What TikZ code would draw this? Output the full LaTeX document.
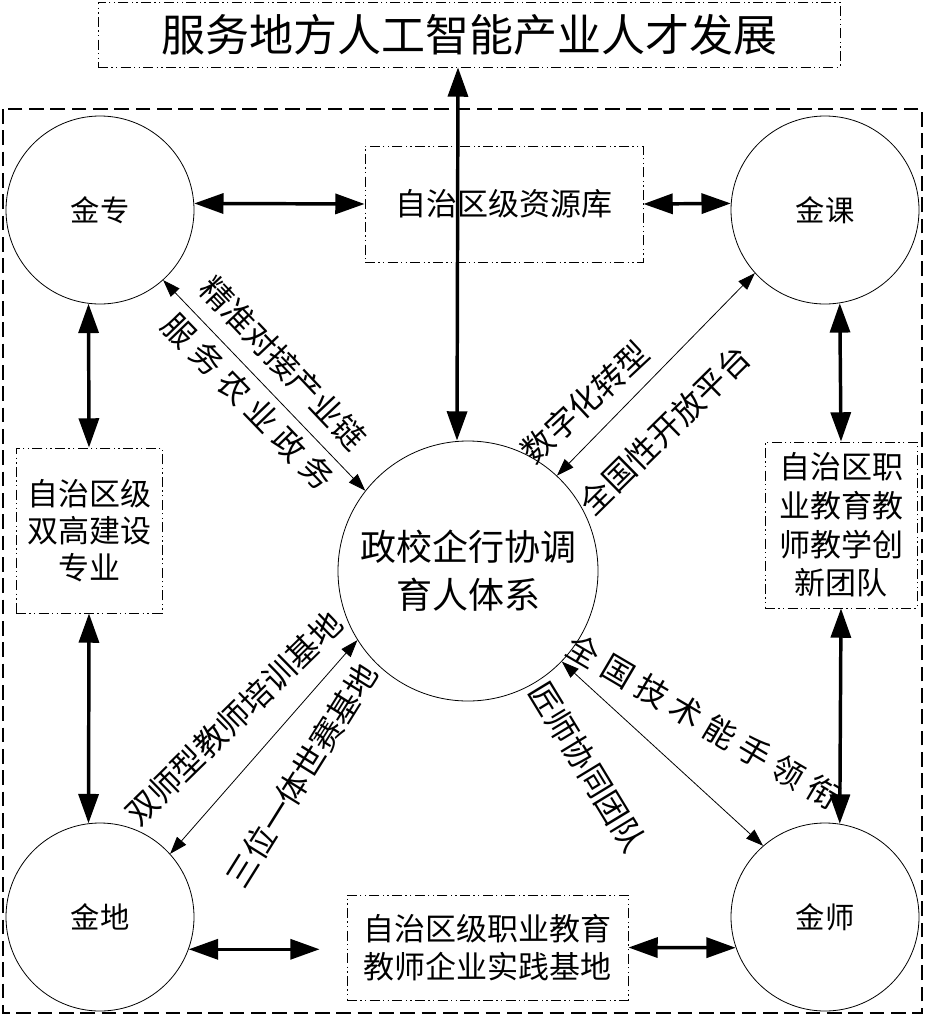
\documentclass[tikz,border=0pt]{standalone}
\usepackage{fontspec}
\setmainfont{Noto Sans CJK SC}
\usetikzlibrary{arrows.meta}
\newcommand{\mygap}{\hspace{0.24em}}
\begin{document}
\begin{tikzpicture}[x=0.75pt,y=-0.75pt,
  circ/.style={circle,draw,line width=0.6pt,inner sep=0pt,minimum size=141pt,font=\fontsize{22}{26}\selectfont},
  ddbox/.style={draw,line width=0.6pt,dash pattern=on 7.5pt off 2.5pt on 1pt off 2.5pt on 1pt off 2.5pt,inner sep=0pt,align=center},
  bigarrow/.style={line width=2.6pt,{Triangle[length=22pt,width=15pt]}-{Triangle[length=22pt,width=15pt]}},
  thinarrow/.style={line width=0.6pt,{Triangle[length=13pt,width=9pt]}-{Triangle[length=13pt,width=9pt]}},
  lab/.style={inner sep=0pt,font=\fontsize{24}{28}\selectfont},
]
\useasboundingbox (0,0) rectangle (925,1017);
% outer dashed frame
\draw[line width=1.3pt,dash pattern=on 11pt off 5pt] (3,109) rectangle (922,1013);

% title
\node[ddbox,minimum width=556.5pt,minimum height=48.75pt,font=\fontsize{33}{40}\selectfont] (title) at (469,34.5) {服务地方人工智能产业人才发展};

% circles
\node[circ] (jz) at (100,210) {金专};
\node[circ] (jk) at (825,210) {金课};
\node[circ] (jd) at (100,917) {金地};
\node[circ] (js) at (825,917) {金师};
\node[circle,draw,line width=0.6pt,inner sep=0pt,minimum size=195pt,align=center,font=\fontsize{27}{36}\selectfont] (c) at (468,571) {政校企行协调\\育人体系};

% boxes
\node[ddbox,minimum width=208.5pt,minimum height=87pt,font=\fontsize{23.25}{28}\selectfont] (zyk) at (504,204) {自治区级资源库};
\node[ddbox,minimum width=109.5pt,minimum height=123.75pt,font=\fontsize{23.25}{27.75}\selectfont] (sg) at (89,530.5) {自治区级\\双高建设\\专业};
\node[ddbox,minimum width=114pt,minimum height=124.5pt,font=\fontsize{23.25}{28.9}\selectfont] (tx) at (841,525) {自治区职\\业教育教\\师教学创\\新团队};
\node[ddbox,minimum width=210.75pt,minimum height=78.75pt,font=\fontsize{23.25}{28.5}\selectfont] (sj) at (487.5,947.5) {自治区级职业教育\\教师企业实践基地};

% thick arrows
\draw[bigarrow] ([xshift=-8.25pt]title.south) -- ([xshift=-8.25pt]c.north);
\draw[bigarrow] (jz.4) -- (zyk.west);
\draw[bigarrow] (zyk.east) -- (jk.176);
\draw[bigarrow] (jz.-97) -- (sg.north);
\draw[bigarrow] (sg.south) -- (jd.97);
\draw[bigarrow] (jk.-81) -- (tx.north);
\draw[bigarrow] (tx.south) -- (js.81);
\coordinate (sjl) at ([xshift=-20.25pt]sj.west);
\draw[bigarrow] (jd.-20) -- (jd.-20 -| sjl);
\draw[bigarrow] (sj.east) -- (js.199);

% thin arrows
\draw[thinarrow] (jz.-48) -- (c.142);
\draw[thinarrow] (jk.-138) -- (c.47);
\draw[thinarrow] (jd.42) -- (c.-148);
\draw[thinarrow] (js.131) -- (c.-44);

% labels
\node[lab,rotate=-46.5] (l1) at (283.5,363) {精准对接产业链};
\node[lab,rotate=-46] (l2) at (248.5,401.5) {服\mygap 务\mygap 农\mygap 业\mygap 政\mygap 务};
\node[lab,rotate=43] (l3) at (585,402) {数字化转型};
\node[lab,rotate=44.6] (l4) at (665,430) {全国性开放平台};
\node[lab,rotate=44.4] (l5) at (233.5,718.5) {双师型教师培训基地};
\node[lab,rotate=58] (l6) at (301.5,775) {三位一体世赛基地};
\node[lab,rotate=-58.7] (l7) at (587.5,767) {匠师协同团队};
\node[lab,rotate=-30.5] (l8) at (703.5,721.5) {全\mygap 国\mygap 技\mygap 术\mygap 能\mygap 手\mygap 领\mygap 衔};
\end{tikzpicture}
\end{document}
